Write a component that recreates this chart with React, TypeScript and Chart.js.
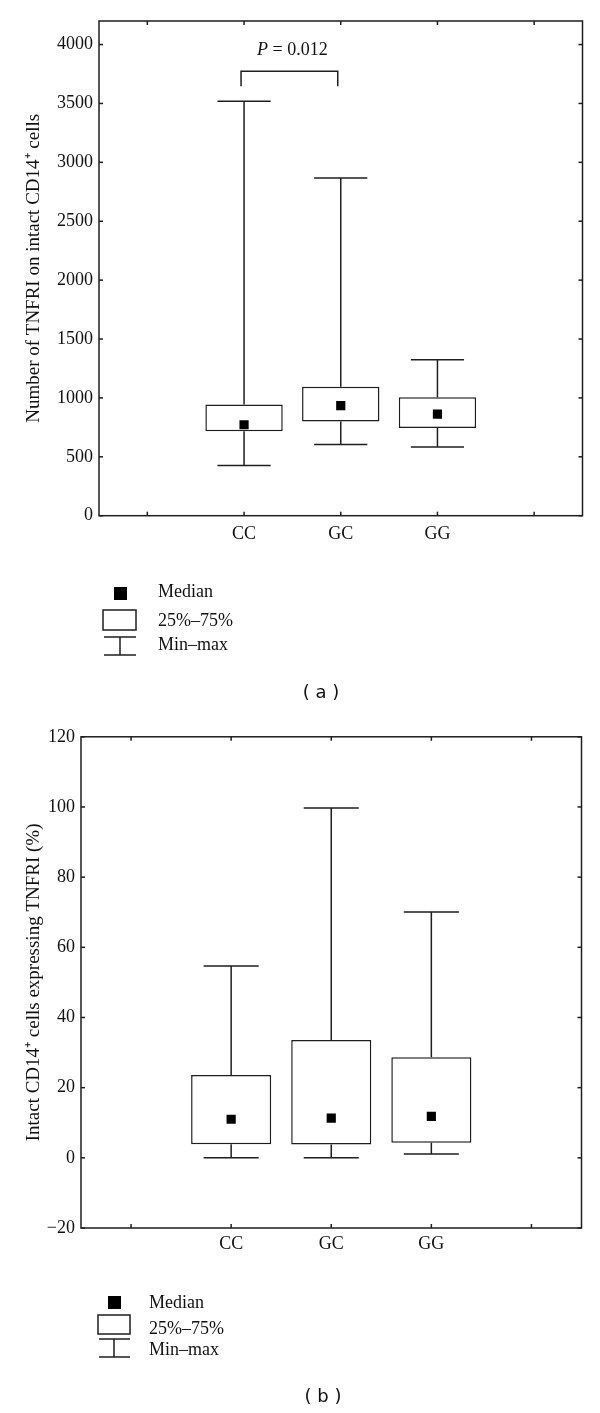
import React, { useEffect, useRef } from 'react';
import { Chart, registerables } from 'chart.js';

Chart.register(...registerables);

// ---------- data ----------
const categories = ['', 'CC', 'GC', 'GG', ''];

// Panel (a): Number of TNFRI on intact CD14+ cells
const aMin = [null, 427, 605, 584, null];
const aQ1 = [null, 717, 799, 744, null];
const aMedian = [null, 772, 935, 862, null];
const aQ3 = [null, 944, 1095, 1005, null];
const aMax = [null, 3519, 2868, 1325, null];
const aAxis = { min: 0, max: 4200 };
const aTickValues = [0, 500, 1000, 1500, 2000, 2500, 3000, 3500, 4000];
const aTitle = 'Number of TNFRI on intact CD14\u207A cells';
const aBracketCats = ['CC', 'GC'];
const aBracketValues = { top: 3773, bottom: 3646, label: 3950 };
const aPItalic = 'P';
const aPRest = ' = 0.012';

// Panel (b): Intact CD14+ cells expressing TNFRI (%)
const bMin = [null, 0, 0, 1.1, null];
const bQ1 = [null, 3.9, 3.8, 4.3, null];
const bMedian = [null, 11.0, 11.3, 11.8, null];
const bQ3 = [null, 23.6, 33.6, 28.7, null];
const bMax = [null, 54.7, 99.7, 70.1, null];
const bAxis = { min: -20, max: 120 };
const bTickValues = [-20, 0, 20, 40, 60, 80, 100, 120];
const bTitle = 'Intact CD14\u207A cells expressing TNFRI (%)';

const legendLabels = ['Median', '25%\u201375%', 'Min\u2013max'];
const panelLabels = ['( a )', '( b )'];

// ---------- style ----------
const LINE = '#1e1e1e';
const TEXT = '#111';
const SERIF = '"Liberation Serif", "Times New Roman", serif';
const SANS = '"DejaVu Sans", Verdana, sans-serif';

type Panel = {
  height: number;
  top: number;
  area: { left: number; right: number; top: number; bottom: number };
  min: (number | null)[];
  q1: (number | null)[];
  median: (number | null)[];
  q3: (number | null)[];
  max: (number | null)[];
  axis: { min: number; max: number };
  tickValues: number[];
  title: string;
  xLabelPad: number;
  bracket?: { cats: string[]; top: number; bottom: number; label: number };
  legend: {
    sq: [number, number, number];
    box: [number, number, number, number];
    mm: [number, number, number, number, number];
    textX: number;
    textY: [number, number, number];
  };
  label: { text: string; x: number; y: number };
};

const panels: Panel[] = [
  {
    height: 706,
    top: 0,
    area: { left: 99, right: 582.5, top: 21, bottom: 515.7 },
    min: aMin, q1: aQ1, median: aMedian, q3: aQ3, max: aMax,
    axis: aAxis,
    tickValues: aTickValues,
    title: aTitle,
    xLabelPad: 8,
    bracket: { cats: aBracketCats, ...aBracketValues },
    legend: {
      sq: [114, 587, 13],
      box: [103, 610, 33, 20],
      mm: [104, 136, 120, 637, 655],
      textX: 158,
      textY: [592, 621, 645],
    },
    label: { text: panelLabels[0], x: 321, y: 693 },
  },
  {
    height: 707,
    top: 706,
    area: { left: 81, right: 581.5, top: 30.8, bottom: 522 },
    min: bMin, q1: bQ1, median: bMedian, q3: bQ3, max: bMax,
    axis: bAxis,
    tickValues: bTickValues,
    title: bTitle,
    xLabelPad: 5,
    legend: {
      sq: [108, 590, 13],
      box: [98, 609, 32, 19],
      mm: [99, 130, 114, 633, 651],
      textX: 149,
      textY: [597, 623, 644],
    },
    label: { text: panelLabels[1], x: 323, y: 691 },
  },
];

function makeExtras(p: Panel) {
  const seg = (ctx: CanvasRenderingContext2D, x1: number, y1: number, x2: number, y2: number) => {
    ctx.beginPath();
    ctx.moveTo(x1, y1);
    ctx.lineTo(x2, y2);
    ctx.stroke();
  };
  return {
    id: 'boxExtras',
    beforeDatasetsDraw(chart: any) {
      const ctx = chart.ctx as CanvasRenderingContext2D;
      const xs = chart.scales.x;
      const ys = chart.scales.y;
      const slot = xs.getPixelForValue(1) - xs.getPixelForValue(0);
      const half = slot * 0.275;
      ctx.save();
      ctx.strokeStyle = LINE;
      ctx.lineWidth = 1.5;
      p.min.forEach((mn, i) => {
        if (mn == null) return;
        const cx = xs.getPixelForValue(i);
        const yMin = ys.getPixelForValue(mn);
        const yMax = ys.getPixelForValue(p.max[i] as number);
        const yQ1 = ys.getPixelForValue(p.q1[i] as number);
        const yQ3 = ys.getPixelForValue(p.q3[i] as number);
        seg(ctx, cx, yMin, cx, yQ1);
        seg(ctx, cx, yQ3, cx, yMax);
        seg(ctx, cx - half, yMin, cx + half, yMin);
        seg(ctx, cx - half, yMax, cx + half, yMax);
      });
      ctx.restore();
    },
    afterDraw(chart: any) {
      const ctx = chart.ctx as CanvasRenderingContext2D;
      const a = chart.chartArea;
      const xs = chart.scales.x;
      const ys = chart.scales.y;
      ctx.save();
      ctx.strokeStyle = LINE;
      ctx.lineWidth = 1.5;
      ctx.strokeRect(a.left, a.top, a.right - a.left, a.bottom - a.top);
      const tl = 4;
      ys.ticks.forEach((t: any) => {
        const yy = ys.getPixelForValue(t.value);
        seg(ctx, a.left, yy, a.left + tl, yy);
        seg(ctx, a.right - tl, yy, a.right, yy);
      });
      categories.forEach((_, i) => {
        const xx = xs.getPixelForValue(i);
        seg(ctx, xx, a.bottom, xx, a.bottom - tl);
        seg(ctx, xx, a.top, xx, a.top + tl);
      });

      // significance bracket
      if (p.bracket) {
        const i1 = categories.indexOf(p.bracket.cats[0]);
        const i2 = categories.indexOf(p.bracket.cats[1]);
        const x1 = xs.getPixelForValue(i1) - 3;
        const x2 = xs.getPixelForValue(i2) - 3;
        const yt = ys.getPixelForValue(p.bracket.top);
        const yb = ys.getPixelForValue(p.bracket.bottom);
        ctx.beginPath();
        ctx.moveTo(x1, yb);
        ctx.lineTo(x1, yt);
        ctx.lineTo(x2, yt);
        ctx.lineTo(x2, yb);
        ctx.stroke();
        const ly = ys.getPixelForValue(p.bracket.label);
        const cx = (xs.getPixelForValue(i1) + xs.getPixelForValue(i2)) / 2;
        ctx.fillStyle = TEXT;
        ctx.textBaseline = 'middle';
        ctx.textAlign = 'left';
        ctx.font = `italic 18px ${SERIF}`;
        const w1 = ctx.measureText(aPItalic).width;
        ctx.font = `18px ${SERIF}`;
        const w2 = ctx.measureText(aPRest).width;
        const sx = cx - (w1 + w2) / 2;
        ctx.font = `italic 18px ${SERIF}`;
        ctx.fillText(aPItalic, sx, ly);
        ctx.font = `18px ${SERIF}`;
        ctx.fillText(aPRest, sx + w1, ly);
      }

      // legend
      const L = p.legend;
      ctx.fillStyle = '#000';
      ctx.fillRect(L.sq[0], L.sq[1], L.sq[2], L.sq[2]);
      ctx.strokeRect(L.box[0], L.box[1], L.box[2], L.box[3]);
      seg(ctx, L.mm[0], L.mm[3], L.mm[1], L.mm[3]);
      seg(ctx, L.mm[0], L.mm[4], L.mm[1], L.mm[4]);
      seg(ctx, L.mm[2], L.mm[3], L.mm[2], L.mm[4]);
      ctx.fillStyle = TEXT;
      ctx.font = `18px ${SERIF}`;
      ctx.textAlign = 'left';
      ctx.textBaseline = 'middle';
      legendLabels.forEach((t, i) => ctx.fillText(t, L.textX, L.textY[i]));

      // panel label
      ctx.font = `18px ${SANS}`;
      ctx.textAlign = 'center';
      ctx.fillText(p.label.text, p.label.x, p.label.y);
      ctx.restore();
    },
  };
}

function BoxPanel({ p }: { p: Panel }) {
  const ref = useRef<HTMLCanvasElement | null>(null);
  useEffect(() => {
    if (!ref.current) return;
    const font = { family: SERIF, size: 18 };
    const xHeight = 40;
    const chart = new Chart(ref.current, {
      type: 'bar',
      data: {
        labels: categories,
        datasets: [
          {
            type: 'line',
            label: 'Median',
            data: p.median,
            showLine: false,
            pointStyle: 'rect',
            pointRadius: 6.5,
            pointHoverRadius: 6.5,
            pointBackgroundColor: '#000',
            pointBorderColor: '#000',
            pointBorderWidth: 0,
            order: 0,
          } as any,
          {
            type: 'bar',
            label: '25%\u201375%',
            data: p.q1.map((v, i) => (v == null ? null : [v, p.q3[i]])) as any,
            backgroundColor: '#fff',
            borderColor: LINE,
            borderWidth: 1.5,
            borderSkipped: false,
            barPercentage: 0.8,
            categoryPercentage: 1,
            order: 1,
          } as any,
        ],
      },
      options: {
        responsive: false,
        animation: false,
        devicePixelRatio: 1,
        events: [],
        layout: {
          padding: {
            left: 0,
            top: p.area.top,
            right: 600 - p.area.right,
            bottom: p.height - p.area.bottom - xHeight,
          },
        },
        plugins: { legend: { display: false }, tooltip: { enabled: false } },
        scales: {
          x: {
            offset: true,
            grid: { display: false, drawTicks: false },
            border: { display: false },
            ticks: { font, color: TEXT, padding: p.xLabelPad, autoSkip: false, maxRotation: 0 },
            afterFit: (s: any) => {
              s.height = xHeight;
            },
          },
          y: {
            min: p.axis.min,
            max: p.axis.max,
            grid: { display: false, drawTicks: false },
            border: { display: false },
            afterBuildTicks: (s: any) => {
              s.ticks = p.tickValues.map((v) => ({ value: v }));
            },
            ticks: {
              autoSkip: false,
              font,
              color: TEXT,
              padding: 6,
              callback: (v: any) => String(v).replace('-', '\u2212'),
            },
            title: {
              display: true,
              text: p.title,
              font: { family: SERIF, size: 19 },
              color: TEXT,
              padding: { top: 23, bottom: 0 },
            },
            afterFit: (s: any) => {
              s.width = p.area.left;
            },
          },
        },
      } as any,
      plugins: [makeExtras(p)],
    });
    return () => chart.destroy();
  }, [p]);
  return (
    <canvas
      ref={ref}
      width={600}
      height={p.height}
      style={{ position: 'absolute', left: 0, top: p.top, width: 600, height: p.height }}
    />
  );
}

export default function App() {
  return (
    <div style={{ position: 'absolute', left: 0, top: 0, width: 600, height: 1413, background: '#fff' }}>
      {panels.map((p, i) => (
        <BoxPanel key={i} p={p} />
      ))}
    </div>
  );
}
